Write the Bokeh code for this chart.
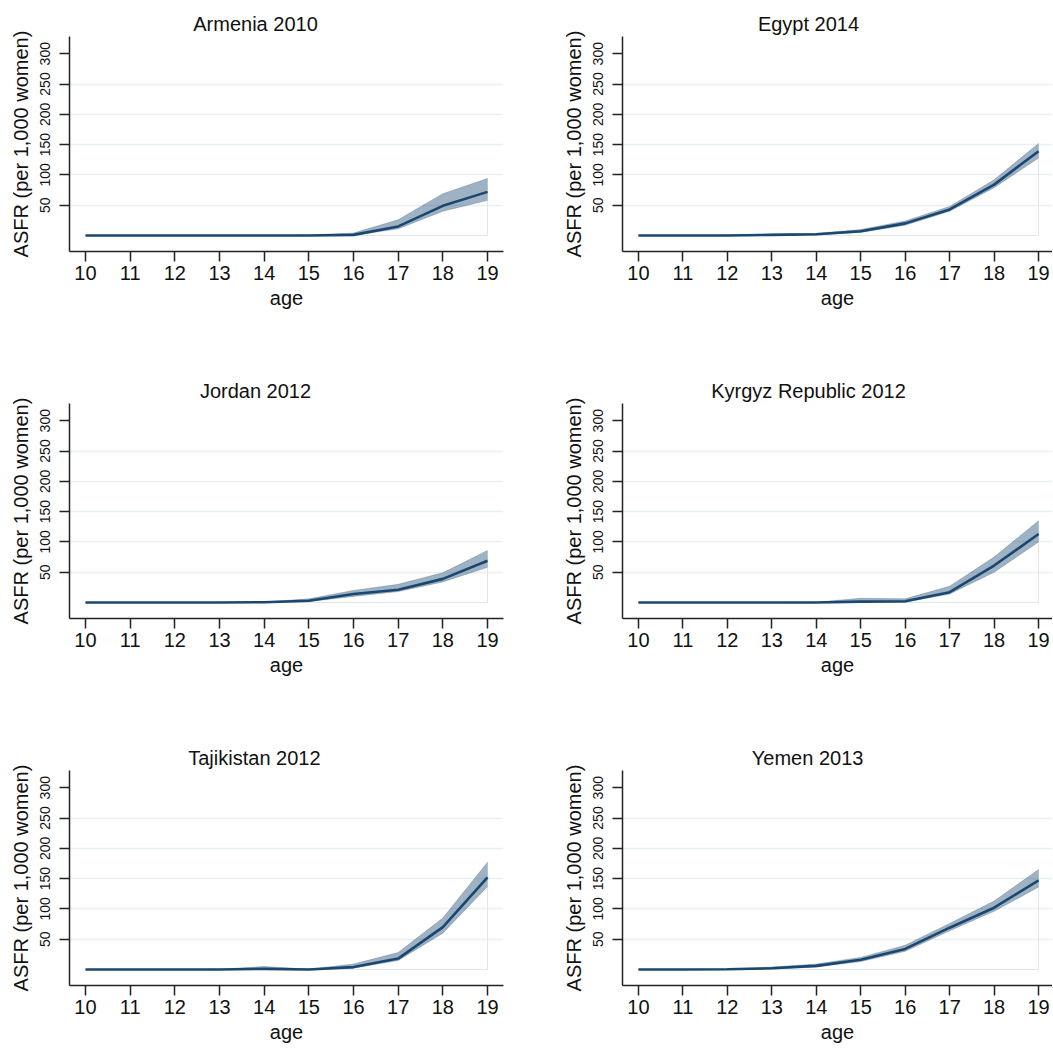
from bokeh.plotting import figure
from bokeh.layouts import column, row
from bokeh.models import FixedTicker, Range1d, Title
from bokeh.embed import file_html
from bokeh.resources import INLINE

# ---- data -------------------------------------------------------------
ages = [10, 11, 12, 13, 14, 15, 16, 17, 18, 19]
age_ticks = [10, 11, 12, 13, 14, 15, 16, 17, 18, 19]
y_ticks = [50, 100, 150, 200, 250, 300]
grid_ticks = [50, 100, 150, 200, 250]

titles = ["Armenia 2010", "Egypt 2014", "Jordan 2012",
          "Kyrgyz Republic 2012", "Tajikistan 2012", "Yemen 2013"]

armenia_mean = [0, 0, 0, 0, 0, 0, 1, 15, 49, 72]
armenia_lo = [0, 0, 0, 0, 0, 0, 0, 11, 40, 58]
armenia_hi = [0, 0, 0, 0, 0, 0.5, 4, 26, 69, 94]

egypt_mean = [0, 0, 0, 1, 2, 7, 20, 43, 84, 139]
egypt_lo = [0, 0, 0, 0, 1, 5, 17, 40, 79, 128]
egypt_hi = [0, 0, 0.5, 2.5, 3.5, 10, 24, 48, 92, 152]

jordan_mean = [0, 0, 0, 0, 0.5, 3, 14, 21, 39, 69]
jordan_lo = [0, 0, 0, 0, 0, 1.5, 10, 18, 34, 58]
jordan_hi = [0, 0, 0, 0, 1, 6, 20, 30, 49, 86]

kyrgyz_mean = [0, 0, 0, 0, 0, 1.5, 2, 17, 61, 113]
kyrgyz_lo = [0, 0, 0, 0, 0, 0, 0.5, 14, 50, 100]
kyrgyz_hi = [0, 0, 0, 0, 0.5, 7, 6, 27, 75, 135]

tajik_mean = [0, 0, 0, 0, 1, 0, 4, 18, 70, 152]
tajik_lo = [0, 0, 0, 0, 0, 0, 2, 15, 60, 137]
tajik_hi = [0, 0, 0, 0.5, 5, 0.5, 9, 28, 85, 177]

yemen_mean = [0, 0, 0.5, 2, 6, 16, 34, 69, 102, 147]
yemen_lo = [0, 0, 0, 1, 4, 13, 30, 64, 96, 136]
yemen_hi = [0, 0, 1, 4, 9, 20, 40, 76, 113, 165]

series = [
    (armenia_mean, armenia_lo, armenia_hi),
    (egypt_mean, egypt_lo, egypt_hi),
    (jordan_mean, jordan_lo, jordan_hi),
    (kyrgyz_mean, kyrgyz_lo, kyrgyz_hi),
    (tajik_mean, tajik_lo, tajik_hi),
    (yemen_mean, yemen_lo, yemen_hi),
]

# ---- style ------------------------------------------------------------
FONT = "Liberation Sans"
NAVY = "#1a476f"
AXIS = "#222222"
GRID = "#e9f0f2"
TITLE_PX = 20

# Arial / Liberation Sans advance widths (em/1000) for centring titles
_W = {" ": 278, "A": 667, "E": 667, "J": 500, "K": 667, "R": 722, "T": 611,
      "Y": 667, "a": 556, "b": 556, "c": 500, "d": 556, "e": 556, "g": 556,
      "i": 222, "j": 222, "k": 500, "l": 222, "m": 833, "n": 556, "o": 556,
      "p": 556, "r": 333, "s": 500, "t": 278, "u": 556, "y": 500, "z": 500}


def text_width(s, px):
    return sum(_W.get(ch, 556) for ch in s) / 1000.0 * px


COL_W = [559, 493]
COL_LEFT = [69, 61]
FRAME_W = [434, 432]
ROW_H = [375, 367, 308]
ROW_TOP = [36, 28, 28]
FRAME_H = 215
PX_PER_AGE = 44.67
X_START = 9.642
Y_RANGE = (-26.4, 328.4)
TITLE_CENTER = 186  # px right of frame left edge


def make_panel(idx):
    r, c = divmod(idx, 2)
    mean, lo, hi = series[idx]
    x_end = X_START + FRAME_W[c] / PX_PER_AGE
    p = figure(width=COL_W[c], height=ROW_H[r], output_backend="svg",
               toolbar_location=None,
               x_range=Range1d(X_START, x_end),
               y_range=Range1d(*Y_RANGE),
               min_border_left=COL_LEFT[c], min_border_top=ROW_TOP[r],
               min_border_right=COL_W[c] - COL_LEFT[c] - FRAME_W[c],
               min_border_bottom=ROW_H[r] - ROW_TOP[r] - FRAME_H)
    p.outline_line_color = None
    p.background_fill_color = "white"
    p.border_fill_color = "white"

    # grid
    p.xgrid.visible = False
    p.ygrid.ticker = FixedTicker(ticks=grid_ticks)
    p.ygrid.grid_line_color = GRID
    p.ygrid.grid_line_width = 1.5

    # x axis
    xa = p.xaxis[0]
    xa.ticker = FixedTicker(ticks=age_ticks)
    xa.axis_label = "age"
    xa.axis_line_color = AXIS
    xa.axis_line_width = 1.5
    xa.major_tick_line_color = AXIS
    xa.major_tick_line_width = 1.5
    xa.major_tick_out = 10
    xa.major_tick_in = 0
    xa.minor_tick_line_color = None
    xa.major_label_text_font = FONT
    xa.major_label_text_font_size = "20px"
    xa.major_label_text_color = "#111111"
    xa.major_label_standoff = 4
    xa.axis_label_text_font = FONT
    xa.axis_label_text_font_size = "20px"
    xa.axis_label_text_font_style = "normal"
    xa.axis_label_text_color = "#111111"
    xa.axis_label_standoff = 4

    # y axis
    ya = p.yaxis[0]
    ya.ticker = FixedTicker(ticks=y_ticks)
    ya.axis_label = "ASFR (per 1,000 women)"
    ya.axis_line_color = AXIS
    ya.axis_line_width = 1.5
    ya.major_tick_line_color = AXIS
    ya.major_tick_line_width = 1.5
    ya.major_tick_out = 10
    ya.major_tick_in = 0
    ya.minor_tick_line_color = None
    ya.major_label_orientation = "vertical"
    ya.major_label_text_font = FONT
    ya.major_label_text_font_size = "14px"
    ya.major_label_text_color = "#111111"
    ya.major_label_standoff = 9
    ya.axis_label_text_font = FONT
    ya.axis_label_text_font_size = "20px"
    ya.axis_label_text_font_style = "normal"
    ya.axis_label_text_color = "#111111"
    ya.axis_label_standoff = 6

    # faint area base outline
    p.line([ages[0], ages[-1], ages[-1]], [0, 0, hi[-1]],
           line_color="#dfe6ec", line_width=1)

    # CI band + line
    p.varea(x=ages, y1=lo, y2=hi, fill_color=NAVY, fill_alpha=0.42)
    p.line(ages, hi, line_color=NAVY, line_alpha=0.25, line_width=1)
    p.line(ages, lo, line_color=NAVY, line_alpha=0.25, line_width=1)
    p.line(ages, mean, line_color=NAVY, line_width=2.6)

    # title, centred over the whole graph region
    off = TITLE_CENTER - text_width(titles[idx], TITLE_PX) / 2
    p.add_layout(Title(text=titles[idx], align="left", offset=off,
                       standoff=4, text_font=FONT,
                       text_font_size=f"{TITLE_PX}px",
                       text_font_style="normal", text_color="#111111"),
                 "above")
    return p


panels = [make_panel(i) for i in range(6)]
layout = column(row(panels[0], panels[1]),
                row(panels[2], panels[3]),
                row(panels[4], panels[5]))

open("out.html", "w").write(file_html(layout, INLINE))
